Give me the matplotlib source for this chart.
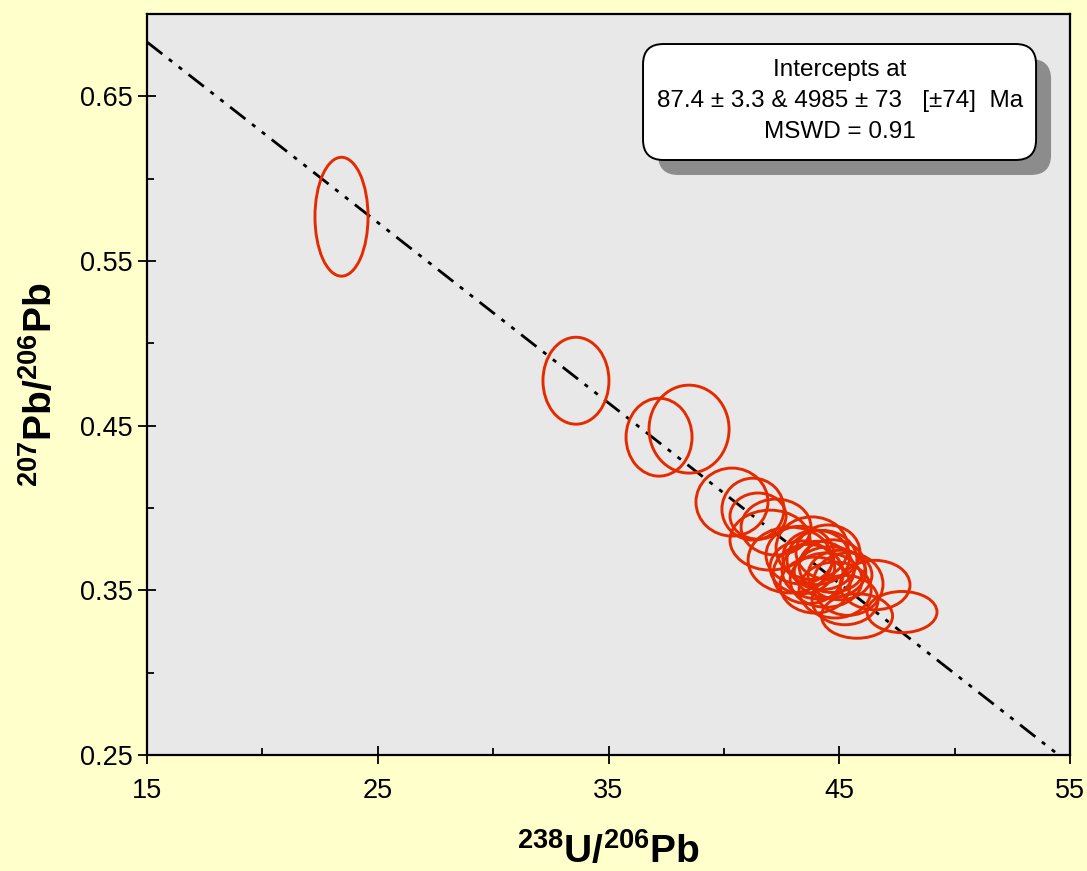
import numpy as np
import matplotlib
matplotlib.use("Agg")
import matplotlib.pyplot as plt
from matplotlib.patches import Ellipse, FancyBboxPatch
from matplotlib.ticker import MultipleLocator

plt.rcParams['font.family'] = ['Liberation Sans', 'DejaVu Sans']
plt.rcParams['mathtext.fontset'] = 'custom'
plt.rcParams['mathtext.rm'] = 'Liberation Sans'
plt.rcParams['mathtext.bf'] = 'Liberation Sans:bold'

# error ellipses: centre (238U/206Pb, 207Pb/206Pb), full width, full height
ell_x = [23.43, 33.59, 37.19, 38.49,
         40.35, 41.26, 41.48, 42.00, 42.26,
         42.87, 43.30, 43.82, 44.25, 44.51, 44.08, 44.69, 43.65, 44.43,
         45.03, 43.95, 44.82, 45.38, 45.25, 45.77, 46.55, 47.72,
         44.00, 44.60, 43.40]
ell_y = [0.5769, 0.4773, 0.4430, 0.4479,
         0.4036, 0.3993, 0.3951, 0.3805, 0.3884,
         0.3684, 0.3714, 0.3756, 0.3684, 0.3732, 0.3623, 0.3647, 0.3599, 0.3562,
         0.3593, 0.3532, 0.3502, 0.3538, 0.3441, 0.3344, 0.3532, 0.3368,
         0.3700, 0.3610, 0.3640]
ell_w = [2.30, 2.86, 2.86, 3.47,
         3.12, 2.69, 2.43, 3.47, 3.03,
         3.64, 2.95, 3.12, 3.03, 2.77, 3.12, 2.86, 3.03, 3.12,
         2.77, 3.03, 3.12, 3.03, 2.86, 3.08, 3.03, 3.03,
         2.90, 3.10, 2.80]
ell_h = [0.0722, 0.0528, 0.0473, 0.0534,
         0.0413, 0.0376, 0.0280, 0.0364, 0.0340,
         0.0400, 0.0350, 0.0380, 0.0360, 0.0330, 0.0350, 0.0320, 0.0360, 0.0330,
         0.0300, 0.0340, 0.0340, 0.0380, 0.0300, 0.0270, 0.0300, 0.0250,
         0.0330, 0.0310, 0.0320]

# regression line (discordia) end points
line_x = [15.0, 55.0]
line_y = [0.683, 0.2446]

fig = plt.figure(figsize=(10.87, 8.71), dpi=100, facecolor='#FFFFCC')
ax = fig.add_axes([0.1352, 0.1332, 0.8492, 0.8507])
ax.set_facecolor('#E8E8E8')

ax.plot(line_x, line_y, color='black', lw=2.0,
        dashes=(7, 3, 1.5, 3, 1.5, 3), zorder=2)

for x, y, w, h in zip(ell_x, ell_y, ell_w, ell_h):
    ax.add_patch(Ellipse((x, y), w, h, fill=False, edgecolor='#E62A00',
                         lw=2.1, zorder=3))

ax.set_xlim(15, 55)
ax.set_ylim(0.25, 0.70)
ax.set_xticks([15, 25, 35, 45, 55])
ax.xaxis.set_minor_locator(MultipleLocator(5))
ax.set_yticks([0.25, 0.35, 0.45, 0.55, 0.65])
ax.set_yticklabels(['0.25', '0.35', '0.45', '0.55', '0.65'])
ax.yaxis.set_minor_locator(MultipleLocator(0.05))
ax.tick_params(which='major', direction='inout', length=13, width=1.3,
               labelsize=19.5)
ax.tick_params(axis='x', which='major', pad=10)
ax.tick_params(axis='y', which='major', pad=4)
ax.tick_params(which='minor', direction='in', length=5, width=1.3)
for s in ax.spines.values():
    s.set_linewidth(1.6)

ax.set_xlabel(r'$\mathbf{^{238}U/^{206}Pb}$', fontsize=28, labelpad=20)
ax.set_ylabel(r'$\mathbf{^{207}Pb/^{206}Pb}$', fontsize=28, labelpad=14)

# text box with drop shadow
bx, by, bw, bh = 0.5374, 0.8030, 0.4258, 0.1565
dx, dy = 15 / 923, -15 / 741
asp = 923 / 741
ax.add_patch(FancyBboxPatch((bx + dx, by + dy), bw, bh,
                            boxstyle='round,pad=0,rounding_size=0.022',
                            mutation_aspect=asp, transform=ax.transAxes,
                            facecolor='#8C8C8C', edgecolor='none', zorder=5))
ax.add_patch(FancyBboxPatch((bx, by), bw, bh,
                            boxstyle='round,pad=0,rounding_size=0.022',
                            mutation_aspect=asp, transform=ax.transAxes,
                            facecolor='white', edgecolor='black', lw=1.4,
                            zorder=6))
lines = ['Intercepts at', '87.4 \u00b1 3.3 & 4985 \u00b1 73   [\u00b174]  Ma',
         'MSWD = 0.91']
for i, t in enumerate(lines):
    ax.text(0.7508, 0.9244 - i * 0.0418, t, transform=ax.transAxes,
            ha='center', va='center', fontsize=17.5, zorder=7)

fig.savefig('out.png', dpi=100, facecolor=fig.get_facecolor())
